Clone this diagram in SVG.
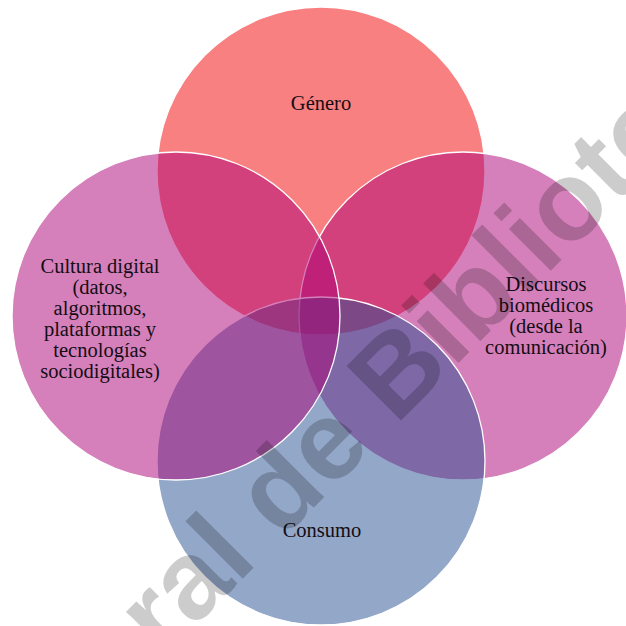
<svg xmlns="http://www.w3.org/2000/svg" width="626" height="626" viewBox="0 0 626 626">
<style>
.c{fill-opacity:0.5;stroke:#fff;stroke-width:1.3}
.t{font-family:"Liberation Serif","Times New Roman",serif;font-size:20.5px;fill:#140d14;text-anchor:middle}
.wm{font-family:"Liberation Sans",Arial,sans-serif;font-size:112px;font-weight:bold;fill:#000;fill-opacity:0.2}
</style>
<rect width="626" height="626" fill="#fff"/>
<g id="genero">
<circle class="c" cx="321" cy="171" r="164" fill="#f30101"/>
<text class="t" x="321" y="110">Género</text>
</g>
<g id="discursos">
<circle class="c" cx="463" cy="316" r="164" fill="#ab0175"/>
<text class="t" x="546" y="291">Discursos</text>
<text class="t" x="546" y="312">biomédicos</text>
<text class="t" x="546" y="333">(desde la</text>
<text class="t" x="546" y="354">comunicación)</text>
</g>
<g id="consumo">
<circle class="c" cx="321" cy="461" r="164" fill="#274f91"/>
<text class="t" x="322" y="537">Consumo</text>
</g>
<g id="cultura">
<circle class="c" cx="176" cy="316" r="164" fill="#ab0175"/>
<text class="t" x="100" y="273">Cultura digital</text>
<text class="t" x="100" y="294">(datos,</text>
<text class="t" x="100" y="315">algoritmos,</text>
<text class="t" x="100" y="336">plataformas y</text>
<text class="t" x="100" y="357">tecnologías</text>
<text class="t" x="100" y="378">sociodigitales)</text>
</g>
<g id="watermark">
<text class="wm" transform="translate(162.5 659) rotate(-45)">ral de Bibliote</text>
</g>
</svg>
